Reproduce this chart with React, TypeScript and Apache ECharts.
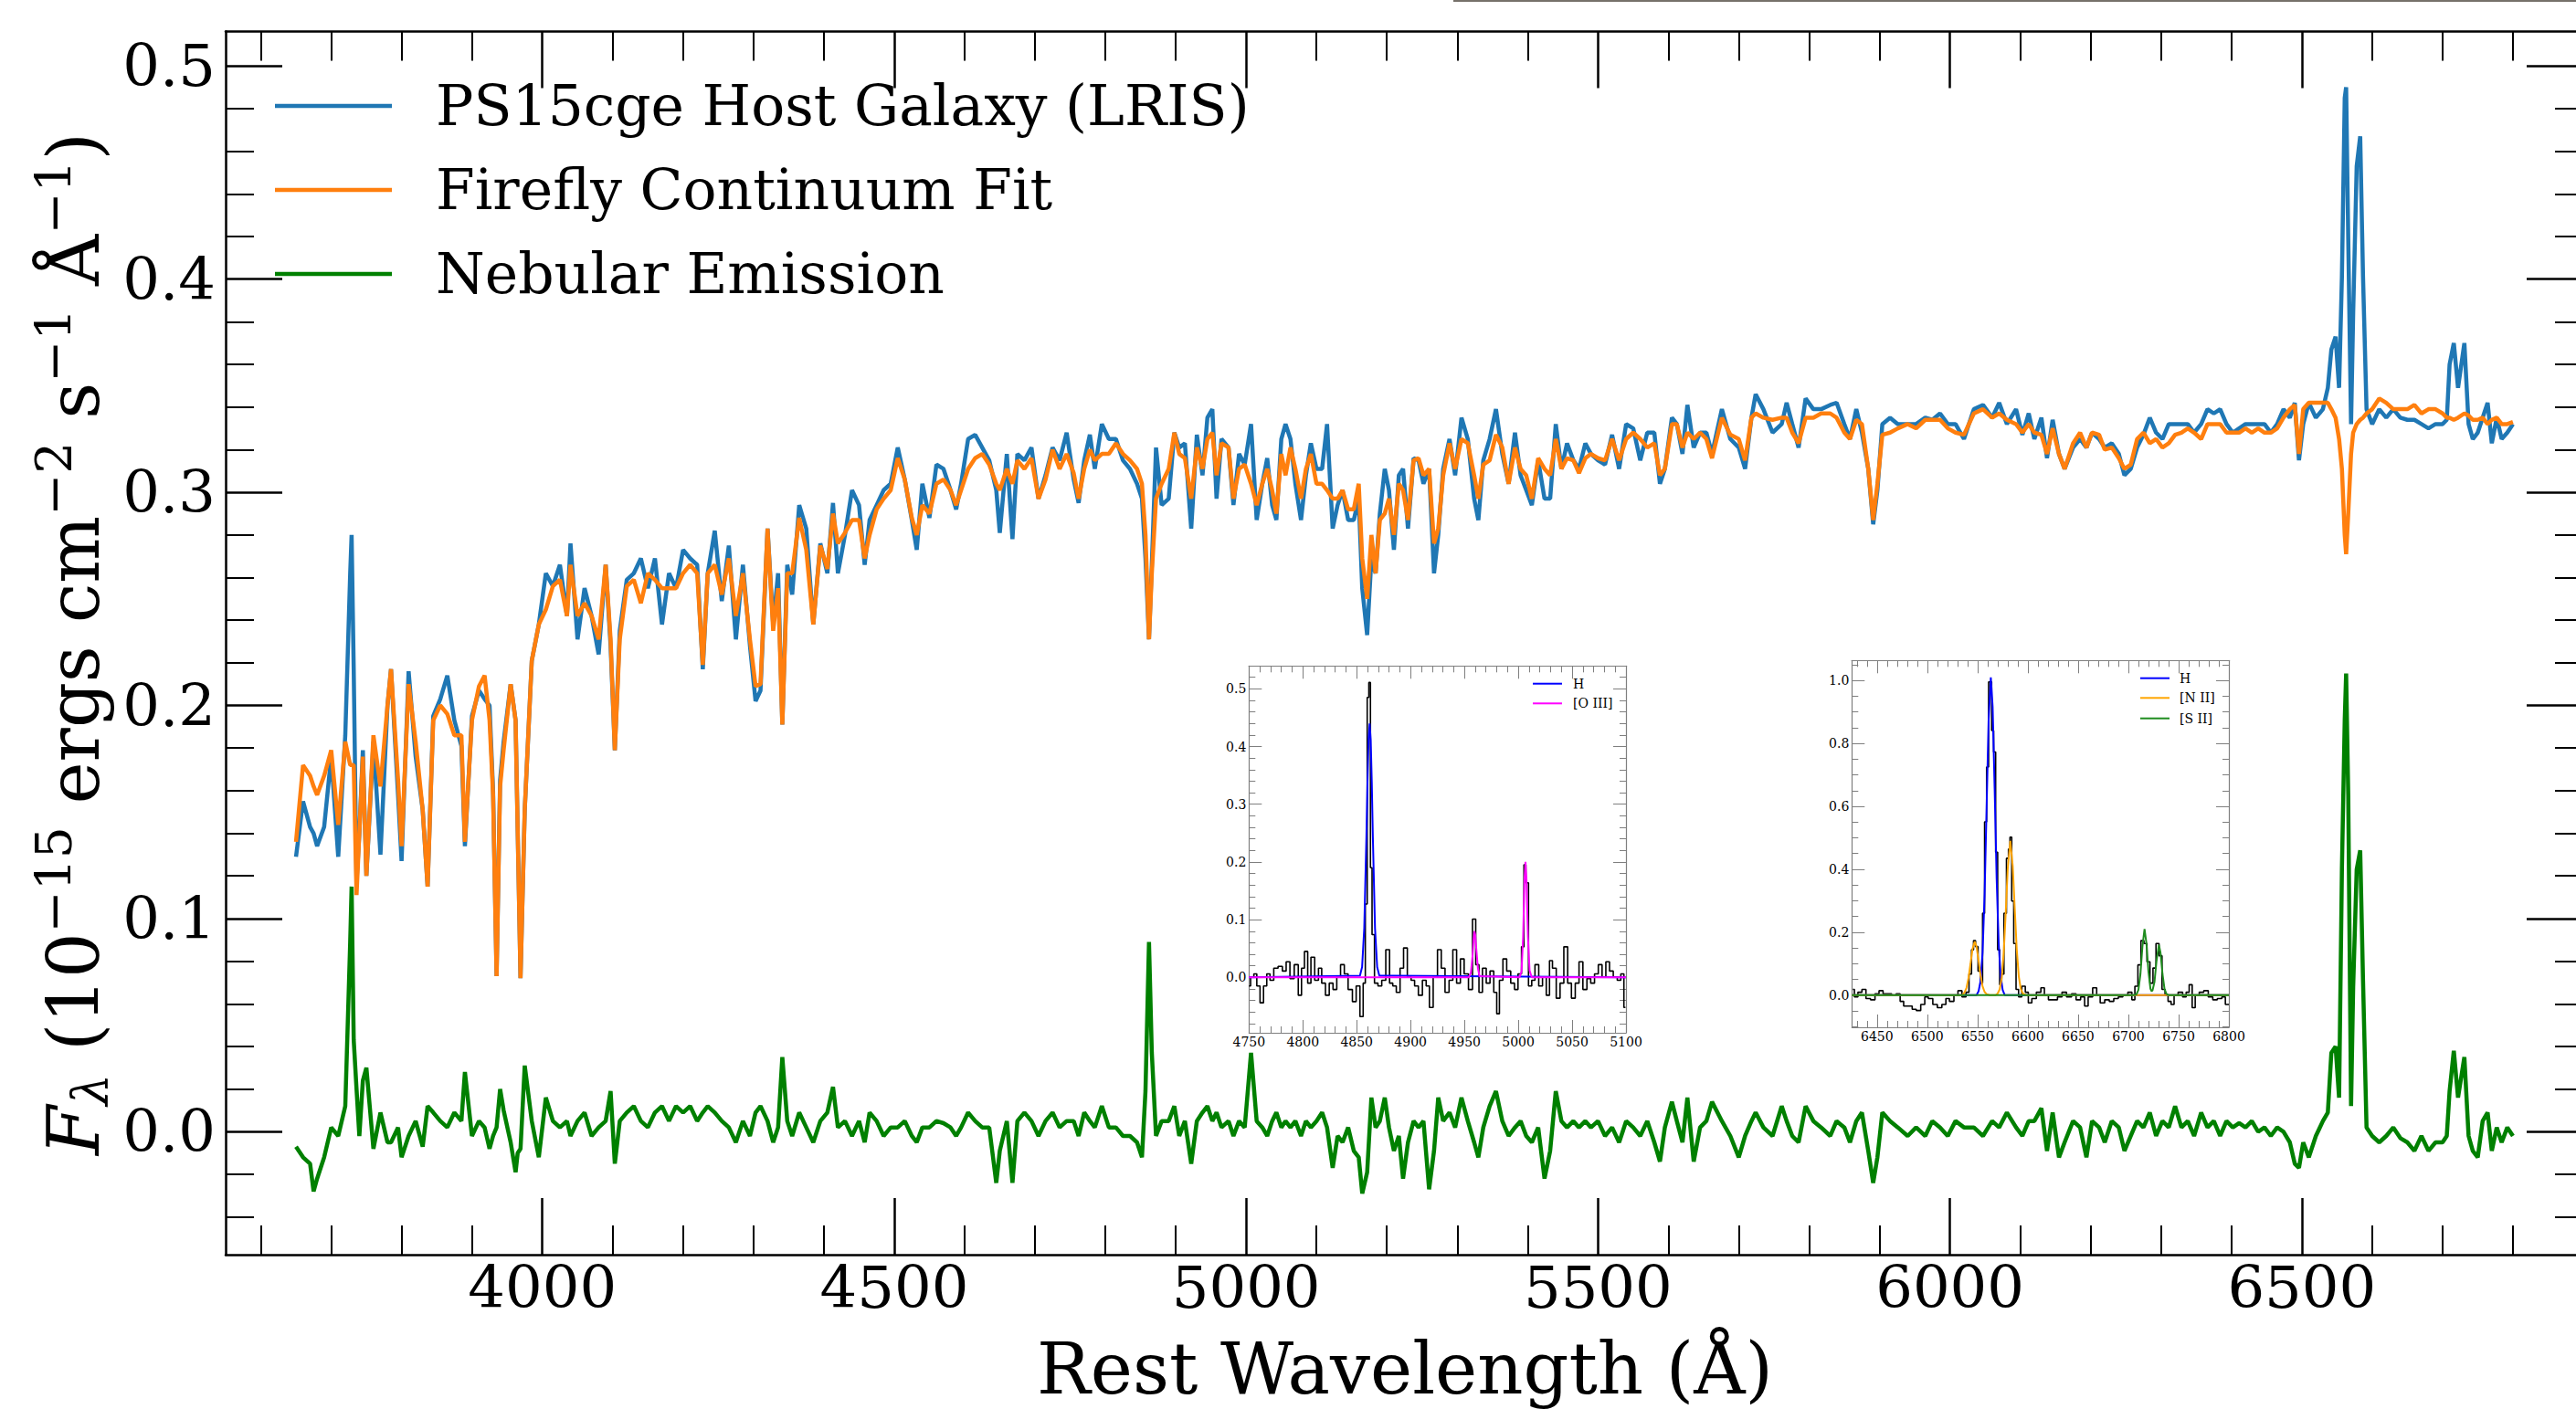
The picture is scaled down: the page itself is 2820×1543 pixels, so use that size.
import React, { useEffect, useRef } from 'react';
import * as echarts from 'echarts';

// ---------------- main spectrum (rest wavelength, Å) ----------------
const wavelength = [
  3650,3660,3670,3675,3680,3690,3700,3710,3720,3727,
  3729,3732,3736,3740,3745,3750,3760,3770,3780,3785,
  3795,3800,3810,3820,3830,3837,3845,3855,3865,3875,
  3885,3890,3900,3910,3918,3925,3930,3935,3940,3945,
  3955,3962,3965,3969,3975,3985,3995,4005,4015,4025,
  4035,4040,4050,4060,4070,4080,4090,4097,4103,4110,
  4120,4130,4140,4150,4160,4170,4180,4190,4200,4210,
  4220,4228,4235,4245,4255,
  4265,4275,4285,4295,4303,4310,4320,4328,4335,4341,
  4348,4355,4365,4375,4385,4395,4405,4413,4420,4430,
  4440,4450,4458,4465,4475,4485,4495,4505,4515,4525,
  4532,4540,4550,4560,4570,4580,4588,4595,4605,4615,
  4625,4635,4645,4650,4660,4668,4675,4685,4695,4705,
  4715,4725,4735,4745,4755,4762,4770,4778,4785,4795,
  4805,4815,4825,4835,4845,4852,4857,4862,4866,4872,
  4880,
  4890,4898,4905,4913,4922,4930,4938,4945,4952,4958,
  4965,4975,4982,4990,4998,5007,5015,5023,5030,5037,
  5043,5050,5056,5063,5070,5078,5085,5092,5100,5108,
  5115,5123,5130,5137,5145,5153,5160,5165,5172,5178,
  5184,5190,5197,5203,5210,5217,5223,5230,5238,5245,
  5252,5260,5267,5273,5280,5289,5297,5306,5315,5324,
  5330,5337,5346,5355,5364,5373,5382,5390,5398,5406,
  5415,5424,5432,5440,5448,5456,5465,5473,5482,5490,
  5500,5510,5520,5530,5540,5550,5560,5570,5580,5588,
  5595,5605,5612,5620,5627,5636,5645,5654,5662,5676,
  5688,5700,5709,5718,5724,5735,5748,5761,5768,5776,
  5785,5795,5806,5817,5830,5839,5850,5858,5867,5875,
  5884,5891,5897,5904,5915,5926,5940,5952,5965,5975,
  5986,5997,6008,6020,6034,6047,6060,6070,6081,6094,
  6103,6112,
  6120,6130,6138,6146,6155,6163,6175,6185,6194,6202,
  6212,6220,6230,6240,6248,6257,6266,6275,6284,6293,
  6302,6311,6320,6329,6338,6347,6357,6366,6375,6384,
  6393,6402,6411,6420,6429,6438,6447,6456,6465,6474,
  6483,6490,6496,6502,6510,6520,6530,6537,6542,6548,
  6553,6557,6561,6563,6566,6570,6573,6578,6583,6587,
  6592,6600,6610,6620,6630,6640,6650,6660,6670,6680,
  6690,6700,6706,6710,6716,6722,6731,6737,6743,6750,
  6757,6764,6770,6777,6784,6792,6800,
];

const hostFlux = [
  .129,.155,.143,.140,.134,.143,.176,.129,.186,.262,
  .280,.217,.117,.140,.179,.120,.183,.130,.200,.217,
  .158,.127,.216,.176,.151,.115,.195,.203,.214,.193,
  .181,.134,.195,.207,.203,.200,.160,.073,.165,.183,
  .210,.193,.141,.072,.151,.221,.238,.262,.256,.266,
  .242,.276,.231,.255,.242,.224,.266,.228,.179,.235,
  .259,.262,.269,.255,.269,.238,.262,.255,.273,.269,
  .266,.217,.262,.282,.249,
  .275,.231,.266,.228,.202,.207,.283,.238,.262,.191,
  .266,.252,.294,.283,.238,.276,.262,.295,.262,.280,
  .301,.294,.266,.287,.294,.301,.304,.321,.306,.287,
  .273,.304,.288,.313,.311,.301,.292,.304,.325,.327,
  .321,.315,.301,.281,.318,.278,.318,.315,.321,.297,
  .308,.321,.315,.328,.306,.295,.315,.327,.311,.332,
  .325,.325,.315,.311,.304,.297,.269,.231,.266,.321,
  .294,
  .297,.328,.321,.323,.283,.327,.308,.335,.339,.297,
  .325,.321,.294,.318,.313,.332,.287,.304,.316,.294,
  .287,.325,.332,.325,.304,.287,.308,.323,.311,.311,
  .332,.283,.294,.301,.287,.287,.297,.255,.233,.269,
  .262,.290,.311,.301,.273,.308,.311,.283,.316,.315,
  .304,.311,.262,.280,.311,.325,.308,.335,.325,.297,
  .287,.315,.325,.339,.318,.304,.328,.308,.301,.294,
  .315,.297,.297,.332,.311,.323,.315,.311,.323,.318,
  .315,.313,.327,.311,.332,.330,.315,.328,.328,.304,
  .311,.335,.332,.318,.341,.321,.328,.328,.318,.339,
  .325,.321,.311,.335,.346,.339,.328,.332,.342,.332,
  .321,.344,.339,.339,.341,.342,.332,.325,.339,.328,
  .311,.285,.301,.332,.335,.332,.332,.332,.335,.334,
  .337,.332,.332,.325,.339,.341,.335,.342,.332,.339,
  .327,.337,
  .325,.335,.316,.334,.318,.311,.321,.325,.321,.328,
  .325,.321,.323,.318,.308,.311,.321,.327,.335,.328,
  .325,.332,.332,.332,.332,.328,.332,.339,.337,.339,
  .332,.328,.330,.332,.332,.332,.332,.328,.332,.339,
  .335,.342,.315,.332,.342,.335,.339,.349,.367,.373,
  .349,.401,.485,.490,.419,.332,.384,.453,.467,.401,
  .339,.332,.339,.335,.339,.335,.334,.334,.332,.330,
  .332,.332,.334,.360,.370,.349,.370,.332,.325,.328,
  .335,.342,.323,.335,.325,.328,.332,
];

const continuumFlux = [
  .136,.172,.167,.162,.158,.167,.179,.144,.183,.172,
  .172,.172,.111,.140,.176,.120,.186,.162,.200,.217,
  .165,.134,.210,.183,.151,.115,.193,.200,.196,.186,
  .186,.136,.193,.209,.214,.193,.158,.073,.162,.179,
  .210,.193,.141,.072,.151,.221,.238,.245,.256,.259,
  .242,.266,.242,.248,.242,.231,.266,.231,.179,.231,
  .256,.259,.248,.262,.259,.255,.255,.255,.262,.266,
  .262,.219,.262,.266,.252,
  .269,.242,.262,.231,.209,.210,.283,.235,.255,.191,
  .262,.262,.288,.273,.238,.275,.264,.290,.276,.281,
  .287,.287,.269,.280,.292,.297,.301,.316,.306,.288,
  .280,.294,.290,.304,.306,.301,.294,.301,.311,.316,
  .318,.313,.304,.301,.311,.304,.315,.311,.316,.297,
  .306,.320,.311,.318,.309,.297,.311,.320,.315,.318,
  .318,.323,.318,.315,.311,.304,.280,.231,.262,.297,
  .304,
  .311,.328,.318,.316,.297,.321,.311,.325,.328,.308,
  .323,.321,.297,.311,.313,.304,.294,.304,.311,.301,
  .290,.318,.308,.321,.311,.297,.311,.318,.304,.304,
  .301,.297,.297,.301,.292,.292,.304,.269,.250,.280,
  .262,.287,.290,.297,.280,.304,.301,.287,.315,.316,
  .308,.311,.276,.283,.308,.323,.311,.325,.323,.308,
  .297,.313,.315,.327,.321,.304,.321,.311,.308,.297,
  .316,.311,.308,.325,.311,.316,.315,.309,.316,.318,
  .316,.315,.325,.315,.325,.328,.325,.321,.323,.308,
  .311,.332,.332,.321,.328,.325,.328,.325,.316,.335,
  .327,.325,.315,.335,.337,.335,.334,.335,.335,.328,
  .323,.335,.335,.337,.337,.335,.328,.325,.334,.332,
  .311,.287,.304,.327,.328,.330,.332,.330,.334,.334,
  .334,.330,.328,.327,.337,.339,.335,.337,.334,.332,
  .328,.332,
  .328,.327,.318,.330,.318,.311,.323,.328,.321,.328,
  .327,.320,.321,.316,.311,.313,.325,.328,.323,.325,
  .321,.323,.327,.328,.330,.328,.325,.332,.332,.332,
  .328,.328,.328,.330,.328,.330,.328,.328,.330,.335,
  .339,.341,.318,.339,.342,.342,.342,.342,.339,.335,
  .325,.311,.280,.271,.290,.318,.328,.332,.334,.335,
  .337,.339,.344,.342,.339,.339,.339,.341,.337,.339,
  .339,.337,.335,.335,.334,.335,.337,.336,.334,.334,
  .335,.332,.334,.335,.332,.332,.333,
];

const nebularFlux = [
  -.007,-.012,-.015,-.028,-.022,-.012,.002,-.002,.012,.089,
  .115,.043,.020,-.002,.024,.030,-.008,.009,-.005,-.005,
  .002,-.012,-.002,.005,-.007,.012,.009,.005,.002,.009,
  .005,.028,-.002,.005,.002,-.008,-.002,.002,.020,.010,
  -.005,-.019,-.010,-.008,.031,.005,-.012,.016,.005,.002,
  .005,-.002,.005,.009,-.002,.002,.005,.019,-.015,.005,
  .009,.012,.005,.002,.009,.012,.005,.012,.009,.012,
  .005,.009,.012,.009,.005,
  .002,-.005,.005,-.002,.009,.012,.005,-.005,.002,.035,
  .005,-.002,.009,.002,-.005,.005,.009,.021,.002,.005,
  -.002,.005,-.005,.009,.005,-.002,.002,.002,.005,-.002,
  -.005,.002,.002,.005,.004,.002,-.002,.002,.009,.005,
  .002,.002,-.024,-.009,.005,-.024,.005,.009,.005,-.002,
  .005,.009,.002,.005,.005,-.002,.009,.005,.002,.012,
  .002,.002,-.002,-.002,-.005,-.012,.019,.089,.037,-.002,
  .005,
  .005,.012,-.002,.005,-.015,.005,.009,.012,.005,.009,
  .002,.005,-.002,.005,.002,.037,.005,.002,-.002,.005,
  .009,.002,.005,.002,.005,-.002,.005,.002,.005,.009,
  .002,-.017,-.002,-.005,.002,-.009,-.012,-.029,-.019,.016,
  .002,.005,.016,.002,-.009,-.002,-.022,-.005,.005,.002,
  .005,-.027,-.009,.016,.005,.009,.002,.016,.005,-.005,
  -.012,.002,.012,.019,.005,-.002,.002,.005,-.002,-.005,
  .002,-.022,-.009,.019,.005,.002,.005,.002,.005,.002,
  .005,-.002,.002,-.005,.005,.002,-.002,.005,-.005,-.014,
  .002,.014,.005,-.005,.016,-.014,.002,.005,.014,.005,
  -.002,-.012,-.002,.005,.009,.002,-.002,.012,.005,-.002,
  -.005,.012,.005,.002,-.002,.005,.002,-.005,.005,.009,
  -.009,-.024,-.012,.009,.005,.002,-.002,.002,-.002,.005,
  .002,-.002,.005,.002,.002,-.002,.005,.002,.009,.002,
  -.002,.005,
  .005,.011,-.009,.009,-.012,-.005,.005,.002,-.012,.005,
  .002,-.005,.005,.002,-.009,-.002,.005,.002,.009,-.002,
  .005,.002,.012,.002,.005,-.002,.009,.002,.005,-.002,
  .005,.002,.004,.002,.005,.000,.002,-.002,.002,.000,
  -.005,-.015,-.017,-.005,-.012,-.002,.005,.009,.037,.040,
  .016,.123,.193,.215,.158,.012,.068,.123,.132,.071,
  .002,-.002,-.005,-.002,.002,-.003,-.005,-.009,-.002,-.009,
  -.005,-.005,-.002,.019,.038,.016,.035,-.002,-.009,-.012,
  .005,.009,-.009,.002,-.005,.002,-.002,
];

// ---------------- inset 1: Hβ / [O III] ----------------
const inset1Wave = [
  4750,4753,4756,4758.5,4762,4765,4768,4771,4775,4779,
  4783,4786,4790,4794,4797.5,4800,4803,4806,4809,4813,
  4816,4819,4823,4826,4830,4833,4837,4840,4844,4848,
  4851,4855,4857,4859,4860.5,4862,4863.5,4865,4868,4871.5,
  4875,4879,4882,4885,4888.5,4892,4895,4899,4902,4905.5,
  4909,4913,4916,4919,4923,4927,4930,4934,4937.5,4941,
  4944.5,4948,4951.5,4956,4959,4962,4965,4968.5,4972,4975.5,
  4979,4981,4984,4987.5,4991,4995,4998,5001.5,5004.5,5006,
  5008,5011,5014,5017,5021,5024,5028,5030,5033.5,5037,
  5040.6,5044,5047.7,5051,5054.8,5058,5062,5065.5,5069,5072.6,
  5076,5079.6,5083,5086.4,5090,5093.8,5096.6,5099.5,
];
const inset1Flux = [
  -.015,.001,.006,-.015,-.044,-.015,.006,-.005,.016,.019,
  .011,.027,-.002,.022,-.031,.016,.045,-.010,.035,-.005,
  .016,-.010,-.031,-.010,-.021,.001,.022,.006,-.021,-.042,
  -.015,-.068,-.010,.127,.485,.511,.190,.074,-.010,-.015,
  -.005,.048,-.010,-.015,-.026,.016,.051,.001,-.005,-.015,
  -.031,-.005,-.015,-.052,.001,.048,.016,-.026,-.005,.048,
  -.010,.032,.006,-.021,.101,.022,-.026,.016,-.010,.011,
  -.026,-.063,-.005,.032,.011,-.010,-.021,.006,.053,.195,
  .164,-.015,-.005,.022,-.015,.001,-.031,.029,.016,-.036,
  -.010,.053,-.010,-.036,-.010,.027,-.021,-.002,-.010,.006,
  .022,.001,.027,.011,.001,-.005,.006,-.052,
];
const inset1HbWave = [4750,4853,4855,4857,4859,4860,4861,4862,4863,4864,4865,4867,4869,4871,5100];
const inset1HbFlux = [0,.003,.018,.085,.243,.338,.412,.44,.412,.338,.243,.085,.018,.003,0];
const inset1OiiiWave = [4750,4954,4956,4957.5,4958.5,4959.2,4960,4961,4962.5,4964,5001,5003,5004.5,5005.8,5006.7,5007.6,5009,5010.5,5012.5,5100];
const inset1OiiiFlux = [0,0,.008,.036,.066,.08,.074,.05,.016,.002,0,.01,.07,.17,.20,.17,.07,.012,0,0];

// ---------------- inset 2: Hα / [N II] / [S II] ----------------
const inset2Wave = [
  6426,6429,6433,6437,6441,6446,6450,6454,6458,6462,
  6467,6471,6475,6478,6483,6487,6491,6496,6499,6503,
  6508,6512,6517,6520,6524,6529,6532,6537,6540,6543,
  6545,6547,6549,6552,6554,6556,6558,6560,6562,6563,
  6565,6567,6569,6571,6573,6575,6577.5,6580,6581.5,6583,
  6585,6587,6589.6,6592,6596,6599,6602,6606,6611,6615,
  6618,6623,6627,6632,6636,6641,6646,6650,6655,6658,
  6662,6667,6670,6674,6679,6683,6688,6692,6697,6702,
  6705,6708,6711,6714,6717,6720,6723,6726,6729,6732,
  6735,6738,6741,6744,6747,6752,6756,6759,6762,6765,
  6768,6773,6777,6782,6786,6791,6795,6798,6800,
];
const inset2Flux = [
  .018,-.006,.009,.018,-.011,-.015,.004,.014,.004,.004,
  -.001,.004,-.020,-.035,-.035,-.045,-.049,-.030,-.006,-.011,
  -.030,-.040,-.030,-.011,-.020,-.001,.014,-.006,.009,.067,
  .144,.173,.154,.076,.038,.260,.551,.725,.996,.996,
  .841,.773,.454,.144,.033,.067,.260,.435,.464,.502,
  .299,.164,.018,-.006,.028,.009,-.025,-.011,.009,.023,
  -.001,-.015,-.015,-.006,.009,-.006,.004,-.015,-.006,-.035,
  -.006,.023,-.001,-.025,-.015,-.020,-.011,-.006,-.001,.009,
  -.015,.028,.096,.173,.164,.106,.038,.086,.164,.125,
  .018,-.001,-.020,-.030,-.001,.009,-.006,.009,.033,-.040,
  -.001,.009,.014,-.006,-.015,-.011,-.006,-.030,-.030,
];
const inset2HaWave = [6425,6549,6551,6553,6555,6557,6559,6561,6563.2,6565,6567,6569,6571,6573,6575,6577,6800];
const inset2HaFlux = [0,0,.012,.045,.136,.32,.596,.875,1.01,.917,.656,.37,.166,.058,.016,0,0];
const inset2NiiWave = [6425,6535,6537,6539,6541,6543,6545,6547.2,6549,6551,6553,6555,6557,6559,6562,6568,6570,6572,6574,6576,6578,6580,6582.6,6585,6587,6589,6591,6593,6595,6598,6800];
const inset2NiiFlux = [0,0,.008,.023,.054,.10,.147,.17,.154,.11,.062,.028,.01,.003,0,0,.005,.018,.054,.134,.26,.40,.49,.41,.275,.145,.06,.02,.005,0,0];
const inset2SiiWave = [6425,6705,6708,6710,6712,6714,6716.1,6718,6720,6722,6723,6724,6726,6728,6730.4,6732,6734,6736,6738,6740,6800];
const inset2SiiFlux = [0,0,.002,.016,.066,.155,.21,.164,.075,.02,.013,.014,.042,.108,.16,.134,.066,.019,.003,0,0];

// ---------------- ticks ----------------
const MAIN_X_MAJOR = [4000, 4500, 5000, 5500, 6000, 6500];
const MAIN_X_MINOR = [3600,3700,3800,3900,4100,4200,4300,4400,4600,4700,4800,4900,5100,5200,5300,5400,5600,5700,5800,5900,6100,6200,6300,6400,6600,6700,6800];
const MAIN_Y_MAJOR = [0, 0.1, 0.2, 0.3, 0.4, 0.5];
const MAIN_Y_MINOR = [-0.04,-0.02,0.02,0.04,0.06,0.08,0.12,0.14,0.16,0.18,0.22,0.24,0.26,0.28,0.32,0.34,0.36,0.38,0.42,0.44,0.46,0.48];
const IN1_X_MAJOR = [4750,4800,4850,4900,4950,5000,5050,5100];
const IN1_X_MINOR = [4760,4770,4780,4790,4810,4820,4830,4840,4860,4870,4880,4890,4910,4920,4930,4940,4960,4970,4980,4990,5010,5020,5030,5040,5060,5070,5080,5090];
const IN1_Y_MAJOR = [0, 0.1, 0.2, 0.3, 0.4, 0.5];
const IN1_Y_MINOR = [-0.08,-0.06,-0.04,-0.02,0.02,0.04,0.06,0.08,0.12,0.14,0.16,0.18,0.22,0.24,0.26,0.28,0.32,0.34,0.36,0.38,0.42,0.44,0.46,0.48,0.52];
const IN2_X_MAJOR = [6450,6500,6550,6600,6650,6700,6750,6800];
const IN2_X_MINOR = [6430,6440,6460,6470,6480,6490,6510,6520,6530,6540,6560,6570,6580,6590,6610,6620,6630,6640,6660,6670,6680,6690,6710,6720,6730,6740,6760,6770,6780,6790];
const IN2_Y_MAJOR = [0, 0.2, 0.4, 0.6, 0.8, 1.0];
const IN2_Y_MINOR = [-0.1,-0.05,0.05,0.1,0.15,0.25,0.3,0.35,0.45,0.5,0.55,0.65,0.7,0.75,0.85,0.9,0.95,1.05];

const SERIF = 'DejaVu Serif';

function pairs(xs: number[], ys: number[]) {
  const n = Math.min(xs.length, ys.length);
  const out: number[][] = [];
  for (let i = 0; i < n; i++) out.push([xs[i], ys[i]]);
  return out;
}

function axis(dim: 'x' | 'y', gridIndex: number, position: string, min: number, max: number,
  values: number[], length: number, color: string, showLine: boolean, lineWidth: number,
  tickWidth: number, label?: any) {
  return {
    type: 'value', gridIndex, position, min, max,
    axisLine: { show: showLine, onZero: false, lineStyle: { color, width: lineWidth } },
    axisTick: { show: true, inside: true, length, customValues: values, lineStyle: { color, width: tickWidth } },
    axisLabel: label ? { show: true, customValues: values, hideOverlap: false, showMinLabel: true, showMaxLabel: true, ...label } : { show: false },
    splitLine: { show: false },
    minorTick: { show: false },
    axisPointer: { show: false },
  };
}

function measure(text: string, size: number, italic: boolean) {
  const ctx = document.createElement('canvas').getContext('2d')!;
  ctx.font = `${italic ? 'italic ' : ''}${size}px "${SERIF}"`;
  return ctx.measureText(text).width;
}

function textEl(x: number, y: number, text: string, size: number, opts: any = {}) {
  const align = opts.align || 'left';
  const va = opts.verticalAlign || 'middle';
  return {
    type: 'text', x, y, silent: true,
    style: {
      text, fontSize: size, fontFamily: SERIF, fontStyle: opts.italic ? 'italic' : 'normal',
      fill: opts.color || '#000', align, verticalAlign: va, textAlign: align, textVerticalAlign: va,
    },
  };
}

function buildYLabel() {
  const parts = [
    { t: 'F', s: 78, i: true, d: 0 },
    { t: 'λ', s: 55, i: true, d: -9 },
    { t: ' (10', s: 78, i: false, d: 0 },
    { t: '−15', s: 55, i: false, d: 30 },
    { t: ' ergs cm', s: 78, i: false, d: 0 },
    { t: '−2', s: 55, i: false, d: 30 },
    { t: ' s', s: 78, i: false, d: 0 },
    { t: '−1', s: 55, i: false, d: 30 },
    { t: ' Å', s: 78, i: false, d: 0 },
    { t: '−1', s: 55, i: false, d: 30 },
    { t: ')', s: 78, i: false, d: 0 },
  ];
  const widths = parts.map(p => measure(p.t, p.s, p.i));
  const total = widths.reduce((a, b) => a + b, 0);
  let cur = -total / 2;
  const children: any[] = [];
  parts.forEach((p, k) => {
    children.push(textEl(cur, -p.d - 0.346 * p.s, p.t, p.s, { italic: p.i }));
    cur += widths[k];
  });
  return { type: 'group', x: 108, y: 705, rotation: Math.PI / 2, children };
}

function buildOption() {
  const black = '#000';
  const grey = '#7f7f7f';
  const mainX: [number, number] = [3550, 6900];
  const mainY: [number, number] = [-0.0577, 0.5162];
  const in1X: [number, number] = [4750, 5100];
  const in1Y: [number, number] = [-0.096, 0.5396];
  const in2X: [number, number] = [6425, 6800];
  const in2Y: [number, number] = [-0.1025, 1.0639];

  const mainLabel = { fontFamily: SERIF, fontSize: 64, color: black };
  const smallLabel = { fontFamily: SERIF, fontSize: 14, color: black };
  const f1 = (v: number) => v.toFixed(1);
  const f0 = (v: number) => String(Math.round(v));

  const xAxis = [
    axis('x', 0, 'bottom', mainX[0], mainX[1], MAIN_X_MAJOR, 62, black, true, 2.5, 2.5, { ...mainLabel, margin: 4, formatter: f0 }),
    axis('x', 0, 'bottom', mainX[0], mainX[1], MAIN_X_MINOR, 32, black, false, 2.5, 2),
    axis('x', 0, 'top', mainX[0], mainX[1], MAIN_X_MAJOR, 62, black, true, 2.5, 2.5),
    axis('x', 0, 'top', mainX[0], mainX[1], MAIN_X_MINOR, 32, black, false, 2.5, 2),
    axis('x', 1, 'bottom', in1X[0], in1X[1], IN1_X_MAJOR, 14, grey, true, 1.2, 1, { ...smallLabel, margin: 3, formatter: f0 }),
    axis('x', 1, 'bottom', in1X[0], in1X[1], IN1_X_MINOR, 7, grey, false, 1.2, 1),
    axis('x', 1, 'top', in1X[0], in1X[1], IN1_X_MAJOR, 14, grey, true, 1.2, 1),
    axis('x', 1, 'top', in1X[0], in1X[1], IN1_X_MINOR, 7, grey, false, 1.2, 1),
    axis('x', 2, 'bottom', in2X[0], in2X[1], IN2_X_MAJOR, 14, grey, true, 1.2, 1, { ...smallLabel, margin: 3, formatter: f0 }),
    axis('x', 2, 'bottom', in2X[0], in2X[1], IN2_X_MINOR, 7, grey, false, 1.2, 1),
    axis('x', 2, 'top', in2X[0], in2X[1], IN2_X_MAJOR, 14, grey, true, 1.2, 1),
    axis('x', 2, 'top', in2X[0], in2X[1], IN2_X_MINOR, 7, grey, false, 1.2, 1),
  ];
  const yAxis = [
    axis('y', 0, 'left', mainY[0], mainY[1], MAIN_Y_MAJOR, 62, black, true, 2.5, 2.5, { ...mainLabel, margin: 11, formatter: f1 }),
    axis('y', 0, 'left', mainY[0], mainY[1], MAIN_Y_MINOR, 31, black, false, 2.5, 2),
    axis('y', 0, 'right', mainY[0], mainY[1], MAIN_Y_MAJOR, 62, black, true, 2.5, 2.5),
    axis('y', 0, 'right', mainY[0], mainY[1], MAIN_Y_MINOR, 31, black, false, 2.5, 2),
    axis('y', 1, 'left', in1Y[0], in1Y[1], IN1_Y_MAJOR, 14, grey, true, 1.2, 1, { ...smallLabel, margin: 3, formatter: f1 }),
    axis('y', 1, 'left', in1Y[0], in1Y[1], IN1_Y_MINOR, 7, grey, false, 1.2, 1),
    axis('y', 1, 'right', in1Y[0], in1Y[1], IN1_Y_MAJOR, 14, grey, true, 1.2, 1),
    axis('y', 1, 'right', in1Y[0], in1Y[1], IN1_Y_MINOR, 7, grey, false, 1.2, 1),
    axis('y', 2, 'left', in2Y[0], in2Y[1], IN2_Y_MAJOR, 14, grey, true, 1.2, 1, { ...smallLabel, margin: 3, formatter: f1 }),
    axis('y', 2, 'left', in2Y[0], in2Y[1], IN2_Y_MINOR, 7, grey, false, 1.2, 1),
    axis('y', 2, 'right', in2Y[0], in2Y[1], IN2_Y_MAJOR, 14, grey, true, 1.2, 1),
    axis('y', 2, 'right', in2Y[0], in2Y[1], IN2_Y_MINOR, 7, grey, false, 1.2, 1),
  ];

  const line = (name: string, data: number[][], color: string, width: number, xi: number, yi: number, z: number, step?: any) => ({
    name, type: 'line', data, xAxisIndex: xi, yAxisIndex: yi, showSymbol: false, symbol: 'none',
    step: step || false, lineStyle: { color, width }, itemStyle: { color }, z, silent: true,
    emphasis: { disabled: true },
  });

  const series = [
    line('PS15cge Host Galaxy (LRIS)', pairs(wavelength, hostFlux), '#1f77b4', 4.5, 0, 0, 2),
    line('Firefly Continuum Fit', pairs(wavelength, continuumFlux), '#ff7f0e', 4.5, 0, 0, 3),
    line('Nebular Emission', pairs(wavelength, nebularFlux), '#008000', 4.5, 0, 0, 4),
    line('inset1 data', pairs(inset1Wave, inset1Flux), '#000', 1.6, 4, 4, 5, 'middle'),
    line('H', pairs(inset1HbWave, inset1HbFlux), '#0000ff', 2, 4, 4, 6),
    line('[O III]', pairs(inset1OiiiWave, inset1OiiiFlux), '#ff00ff', 2, 4, 4, 7),
    line('inset2 data', pairs(inset2Wave, inset2Flux), '#000', 1.6, 8, 8, 5, 'middle'),
    line('Hα', pairs(inset2HaWave, inset2HaFlux), '#0000ff', 2, 8, 8, 6),
    line('[N II]', pairs(inset2NiiWave, inset2NiiFlux), '#ffa500', 2, 8, 8, 7),
    line('[S II]', pairs(inset2SiiWave, inset2SiiFlux), '#1e8c1e', 2, 8, 8, 8),
  ];

  const legendRow = (x1: number, x2: number, tx: number, y: number, color: string, w: number, label: string, size: number) => [
    { type: 'line', shape: { x1, y1: y, x2, y2: y }, style: { stroke: color, lineWidth: w }, silent: true },
    textEl(tx, y, label, size),
  ];

  const graphic: any[] = [
    { type: 'rect', shape: { x: 1591, y: 0, width: 1229, height: 2 }, style: { fill: '#76716a' }, silent: true },
    ...legendRow(301, 429, 477, 116, '#1f77b4', 4.5, 'PS15cge Host Galaxy (LRIS)', 61.5),
    ...legendRow(301, 429, 477, 208, '#ff7f0e', 4.5, 'Firefly Continuum Fit', 61.5),
    ...legendRow(301, 429, 477, 300, '#008000', 4.5, 'Nebular Emission', 61.5),
    ...legendRow(1678, 1710, 1722, 748.7, '#0000ff', 2, 'H', 14),
    ...legendRow(1678, 1710, 1722, 770.3, '#ff00ff', 2, '[O III]', 14),
    ...legendRow(2343, 2375, 2386, 742.7, '#0000ff', 2, 'H', 14),
    ...legendRow(2343, 2375, 2386, 764.3, '#ffa500', 2, '[N II]', 14),
    ...legendRow(2343, 2375, 2386, 786.7, '#1e8c1e', 2, '[S II]', 14),
    textEl(1538, 1499, 'Rest Wavelength (Å)', 78, { align: 'center' }),
    buildYLabel(),
  ];

  return {
    animation: false,
    backgroundColor: '#fff',
    grid: [
      { left: 247, top: 34.5, width: 2581, height: 1339.5, containLabel: false },
      { left: 1367.3, top: 729.3, width: 412.7, height: 401.7, containLabel: false, show: true, backgroundColor: '#fff', borderWidth: 0 },
      { left: 2027.3, top: 723.3, width: 412.7, height: 401.7, containLabel: false, show: true, backgroundColor: '#fff', borderWidth: 0 },
    ],
    xAxis, yAxis, series, graphic,
  };
}

export default function App() {
  const ref = useRef<HTMLDivElement>(null);
  useEffect(() => {
    if (!ref.current) return;
    const chart = echarts.init(ref.current, undefined, { renderer: 'svg' });
    chart.setOption(buildOption() as any);
    return () => chart.dispose();
  }, []);
  return (
    <div style={{ position: 'fixed', left: 0, top: 0, width: 2820, height: 1543, overflow: 'hidden', background: '#fff' }}>
      <div ref={ref} style={{ width: 2840, height: 1543 }} />
    </div>
  );
}
